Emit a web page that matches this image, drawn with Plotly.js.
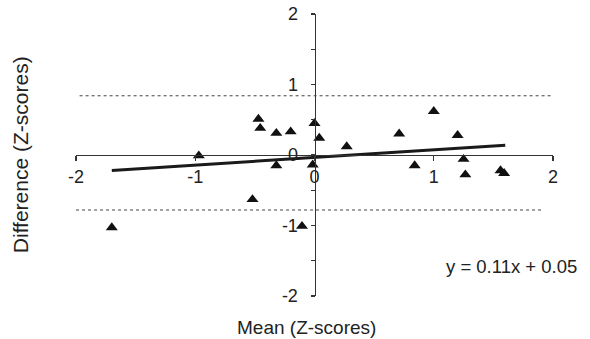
<!DOCTYPE html>
<html>
<head>
<meta charset="utf-8">
<script src="https://cdn.plot.ly/plotly-3.0.1.min.js"></script>
<style>html,body{margin:0;padding:0;background:#fff;}#chart{width:590px;height:339px;}</style>
</head>
<body>
<div id="chart"></div>
<script>
// Data
const meanZ = [-1.70, -0.97, -0.52, -0.47, -0.455, -0.32, -0.32, -0.20, -0.105, 0.00, -0.015, 0.04, 0.27, 0.71, 0.84, 1.00, 1.20, 1.25, 1.265, 1.56, 1.59];
const diffZ = [-1.03, -0.01, -0.63, 0.51, 0.38, -0.15, 0.31, 0.33, -1.01, 0.45, -0.14, 0.24, 0.12, 0.30, -0.15, 0.62, 0.28, -0.06, -0.28, -0.22, -0.26];

const fitX = [-1.70, 1.60];
const fitY = [-0.22, 0.14];

const upperLimit = 0.84;
const upperLimitX = [-1.97, 1.99];
const lowerLimit = -0.78;
const lowerLimitX = [-2.05, 1.91];

const xTickVals = [-2, -1, 0, 1, 2];
const xTickText = ['-2', '-1', '0', '1', '2'];
const yTickVals = [-2, -1.5, -1, -0.5, 0, 0.5, 1, 1.5, 2];
const yTickText = ['-2', '', '-1', '', '0', '', '1', '', '2'];

const equationText = 'y = 0.11x + 0.05';
const xTitle = 'Mean (Z-scores)';
const yTitle = 'Difference (Z-scores)';

const FONT = 'Liberation Sans, Arial, sans-serif';
const INK = '#222';

const traces = [
  {
    x: meanZ, y: diffZ, type: 'scatter', mode: 'markers',
    marker: {symbol: 'triangle-up', size: 10.5, color: '#111'},
    cliponaxis: false, hoverinfo: 'skip'
  },
  {
    x: fitX, y: fitY, type: 'scatter', mode: 'lines',
    line: {color: '#1a1a1a', width: 3}, hoverinfo: 'skip'
  }
];

const layout = {
  width: 590, height: 339,
  margin: {l: 76, r: 37, t: 14, b: 43, pad: 0},
  paper_bgcolor: '#fff', plot_bgcolor: '#fff',
  showlegend: false,
  font: {family: FONT, size: 18, color: INK},
  xaxis: {
    range: [-2, 2], anchor: 'free', position: 0.5,
    showline: true, linecolor: '#333', linewidth: 1.3,
    showgrid: false, zeroline: false,
    ticks: 'outside', ticklen: 5, tickwidth: 1.3, tickcolor: '#333',
    tickmode: 'array', tickvals: xTickVals, ticktext: xTickText,
    ticklabelstandoff: 0,
    tickfont: {family: FONT, size: 18, color: INK}
  },
  yaxis: {
    range: [-2, 2], anchor: 'free', position: 0.5,
    showline: true, linecolor: '#333', linewidth: 1.3,
    showgrid: false, zeroline: false,
    ticks: 'outside', ticklen: 4, tickwidth: 1.3, tickcolor: '#333',
    tickmode: 'array', tickvals: yTickVals, ticktext: yTickText,
    ticklabelstandoff: 9,
    tickfont: {family: FONT, size: 18, color: INK}
  },
  shapes: [
    {type: 'line', xref: 'x', yref: 'y', x0: upperLimitX[0], x1: upperLimitX[1], y0: upperLimit, y1: upperLimit,
     line: {color: '#444', width: 1, dash: '3px,3px'}},
    {type: 'line', xref: 'x', yref: 'y', x0: lowerLimitX[0], x1: lowerLimitX[1], y0: lowerLimit, y1: lowerLimit,
     line: {color: '#444', width: 1, dash: '3px,3px'}}
  ],
  annotations: [
    {text: equationText, xref: 'paper', yref: 'paper', x: 0.914, y: 0.103,
     xanchor: 'center', yanchor: 'middle', showarrow: false,
     font: {family: FONT, size: 18.5, color: INK}},
    {text: xTitle, xref: 'paper', yref: 'paper', x: 0.484, y: -0.113,
     xanchor: 'center', yanchor: 'middle', showarrow: false,
     font: {family: FONT, size: 19, color: INK}},
    {text: yTitle, xref: 'paper', yref: 'paper', x: -0.117, y: 0.50,
     xanchor: 'center', yanchor: 'middle', showarrow: false, textangle: -90,
     font: {family: FONT, size: 21, color: INK}}
  ]
};

Plotly.newPlot('chart', traces, layout, {staticPlot: true, displayModeBar: false});
</script>
</body>
</html>
